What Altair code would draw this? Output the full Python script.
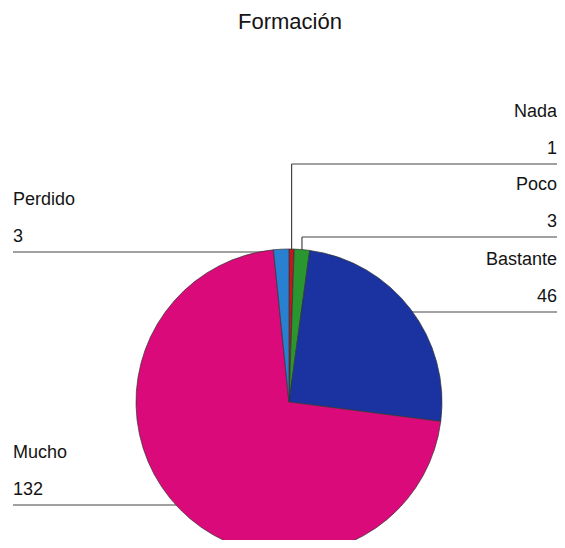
import math
import altair as alt
import pandas as pd

# ---- data ----
categories = ["Nada", "Poco", "Bastante", "Mucho", "Perdido"]
values = [1, 3, 46, 132, 3]
colors = ["#c8141e", "#2a9630", "#1a33a0", "#db0a7a", "#2a80d0"]
title_text = "Formación"

# ---- layout (chart pixel coordinates) ----
W, H = 549, 532
CX, CY, R = 281, 394, 153
sides = ["right", "right", "right", "left", "left"]
line_y = [156, 229, 304, 497, 244]
elbow = [True, True, False, False, False]
LEFT_X, RIGHT_X = 5, 549
FONT = "Liberation Sans"

total = sum(values)
pie_df = pd.DataFrame({"cat": categories, "value": values, "order": list(range(len(values)))})

# leader lines anchored at each slice's mid angle
segs = []
cum = 0
for cat, v, side, ly, el in zip(categories, values, sides, line_y, elbow):
    mid = (cum + v / 2) / total * 2 * math.pi
    cum += v
    ax = CX + R * math.sin(mid)
    if el:
        segs.append({"x": ax, "x2": ax, "y": ly, "y2": CY})
        segs.append({"x": ax, "x2": W, "y": ly, "y2": ly})
    elif side == "right":
        segs.append({"x": ax, "x2": W, "y": ly, "y2": ly})
    else:
        segs.append({"x": LEFT_X, "x2": ax, "y": ly, "y2": ly})
seg_df = pd.DataFrame(segs)

lab = []
for cat, v, side, ly in zip(categories, values, sides, line_y):
    x = RIGHT_X if side == "right" else LEFT_X
    lab.append({"t": cat, "x": x, "y": ly - 47, "side": side})
    lab.append({"t": str(v), "x": x, "y": ly - 10, "side": side})
lab_df = pd.DataFrame(lab)

rules = alt.Chart(seg_df).mark_rule(color="#444444", strokeWidth=1.2).encode(
    x=alt.X("x:Q", scale=None), x2="x2:Q",
    y=alt.Y("y:Q", scale=None), y2="y2:Q",
)

pie = alt.Chart(pie_df).mark_arc(radius=R, stroke="#333333", strokeWidth=0.7).encode(
    theta=alt.Theta("value:Q", stack=True),
    order=alt.Order("order:Q"),
    color=alt.Color("cat:N", scale=alt.Scale(domain=categories, range=colors), legend=None),
    x=alt.value(CX), y=alt.value(CY),
)

def text_layer(side, align):
    return alt.Chart(lab_df).transform_filter(alt.datum.side == side).mark_text(
        align=align, baseline="alphabetic", font=FONT, fontSize=18, color="#141414"
    ).encode(
        x=alt.X("x:Q", scale=None), y=alt.Y("y:Q", scale=None), text="t:N"
    )

title = alt.Chart(pd.DataFrame({"t": [title_text]})).mark_text(
    align="center", baseline="alphabetic", font=FONT, fontSize=22, color="#141414"
).encode(x=alt.value(282), y=alt.value(21), text="t:N")

chart = alt.layer(rules, pie, text_layer("right", "right"), text_layer("left", "left"), title).properties(
    width=W, height=H, autosize=alt.AutoSizeParams(type="none"), padding=0
).configure(background="white").configure_view(stroke=None, strokeWidth=0)

chart.save("out.html", embed_options={"renderer": "svg", "actions": False})
